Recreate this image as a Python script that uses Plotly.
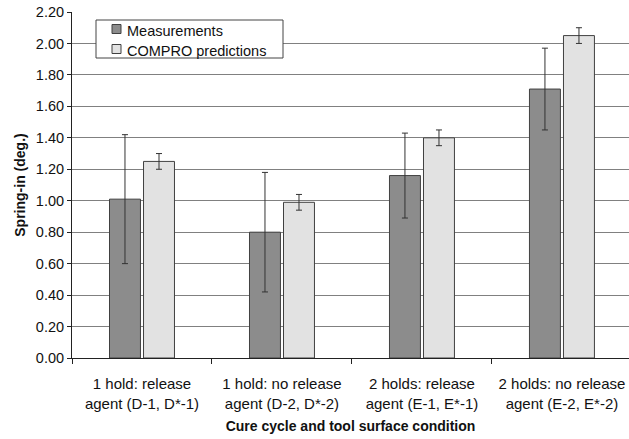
import plotly.graph_objects as go

categories = ["1 hold: release<br>agent (D-1, D*-1)",
              "1 hold: no release<br>agent (D-2, D*-2)",
              "2 holds: release<br>agent (E-1, E*-1)",
              "2 holds: no release<br>agent (E-2, E*-2)"]
measurements = [1.01, 0.80, 1.16, 1.71]
measurement_err = [0.41, 0.38, 0.27, 0.26]
predictions = [1.25, 0.99, 1.40, 2.05]
prediction_err = [0.05, 0.05, 0.05, 0.05]
y_ticks = [0.0, 0.2, 0.4, 0.6, 0.8, 1.0, 1.2, 1.4, 1.6, 1.8, 2.0, 2.2]
series_names = ["Measurements", "COMPRO predictions"]
series_colors = ["#8c8c8c", "#e2e2e2"]

FONT = "Liberation Sans, Arial, sans-serif"
EDGE = "#404040"

fig = go.Figure()
for name, vals, errs, col in [(series_names[0], measurements, measurement_err, series_colors[0]),
                              (series_names[1], predictions, prediction_err, series_colors[1])]:
    fig.add_trace(go.Bar(
        name=name, x=categories, y=vals,
        marker=dict(color=col, line=dict(color=EDGE, width=1)),
        error_y=dict(type="data", array=errs, color="#333333", thickness=1, width=3),
        showlegend=False,
    ))

# manual legend (paper coordinates: plot spans x 72..629 px, y 12..358 px)
def px_x(p):
    return (p - 72) / 557.0

def px_y(p):
    return (358 - p) / 346.0

shapes = [dict(type="rect", xref="paper", yref="paper",
               x0=px_x(96), x1=px_x(283), y0=px_y(58), y1=px_y(20),
               line=dict(color="#444444", width=1), fillcolor="white", layer="above")]
annotations = []
for i, (name, col) in enumerate(zip(series_names, series_colors)):
    cy = 29 + i * 20
    shapes.append(dict(type="rect", xref="paper", yref="paper",
                       x0=px_x(112), x1=px_x(121), y0=px_y(cy + 4.5), y1=px_y(cy - 4.5),
                       line=dict(color=EDGE, width=1), fillcolor=col, layer="above"))
    annotations.append(dict(xref="paper", yref="paper", x=px_x(125), y=px_y(cy + 2),
                            text=name, showarrow=False, xanchor="left", yanchor="middle",
                            font=dict(size=14.5, color="#111111")))

fig.update_layout(
    width=629, height=439,
    margin=dict(l=72, r=0, t=12, b=81),
    paper_bgcolor="white", plot_bgcolor="white",
    barmode="group", bargap=0.514, bargroupgap=0.09,
    font=dict(family=FONT, size=14, color="#111111"),
    showlegend=False,
    shapes=shapes, annotations=annotations,
)
fig.update_xaxes(
    automargin=False,
    range=[-0.5, 3.479], showline=True, linecolor="#222222", linewidth=1,
    ticks="outside", tickson="boundaries", ticklen=5, tickcolor="#222222",
    showgrid=False, tickfont=dict(size=15), ticklabelstandoff=12,
    title=dict(text="<b>Cure cycle and tool surface condition</b>", font=dict(size=14), standoff=10),
)
fig.update_yaxes(
    automargin=False,
    range=[0, 2.2], tickvals=y_ticks, tickformat=".2f",
    showline=True, linecolor="#222222", linewidth=1,
    ticks="outside", ticklen=4, tickcolor="#222222",
    showgrid=True, gridcolor="#808080", gridwidth=1,
    tickfont=dict(size=14.5),
    title=dict(text="<b>Spring-in (deg.)</b>", font=dict(size=14), standoff=6),
)

fig.write_html("out.html", config={"displayModeBar": False},
               post_script="document.body.style.margin='0';document.body.style.overflow='hidden';")
